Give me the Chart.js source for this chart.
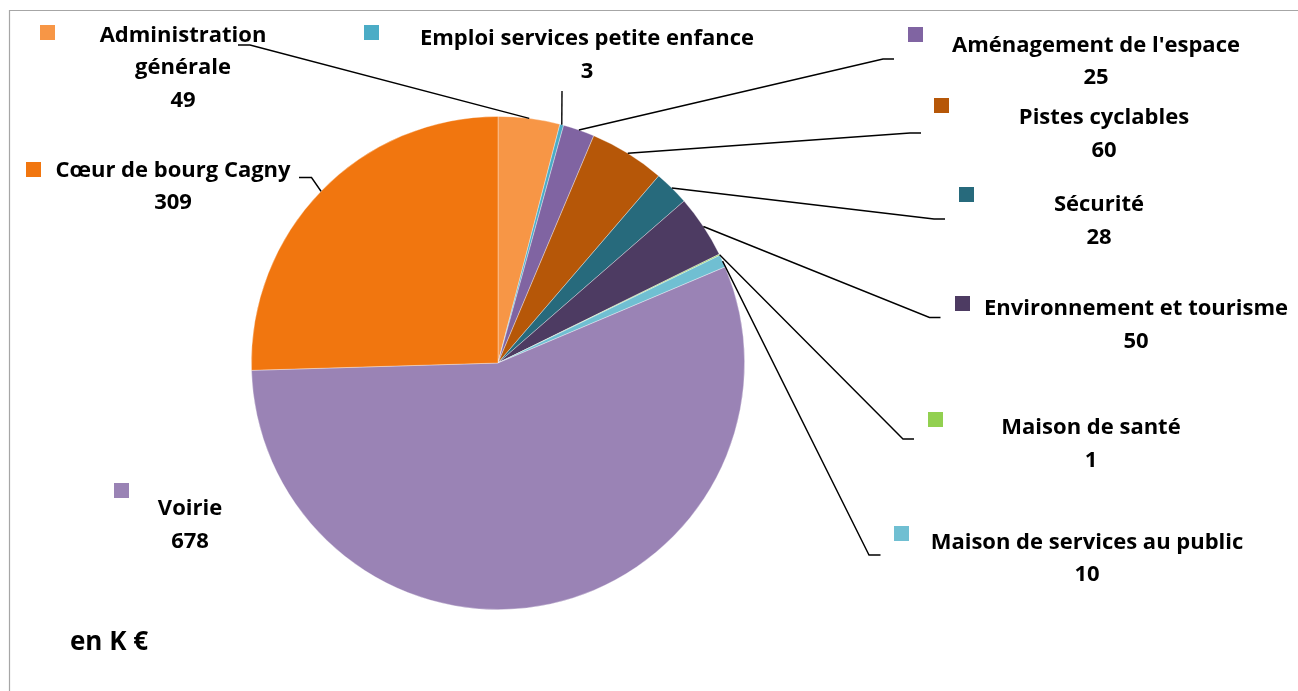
<!DOCTYPE html>
<html lang="fr">
<head>
<meta charset="utf-8">
<title>Investissements par domaine (en K €)</title>
<script src="https://cdn.jsdelivr.net/npm/chart.js@4.4.1/dist/chart.umd.min.js"></script>
<style>
  html, body { margin: 0; padding: 0; background: #ffffff; }
  #wrap { position: relative; width: 1298px; height: 691px; overflow: hidden; }
  canvas { display: block; }
</style>
</head>
<body>
<div id="wrap"><canvas id="chart" width="1298" height="691"></canvas></div>
<script>
// Domaines d'investissement, dans l'ordre des secteurs (sens horaire depuis midi)
const categories = [
  "Administration générale",
  "Emploi services petite enfance",
  "Aménagement de l'espace",
  "Pistes cyclables",
  "Sécurité",
  "Environnement et tourisme",
  "Maison de santé",
  "Maison de services au public",
  "Voirie",
  "Cœur de bourg Cagny"
];

// Montants en milliers d'euros
const amounts = [49, 3, 25, 60, 28, 50, 1, 10, 678, 309];

const sliceColors = [
  "#F79646", "#4BACC6", "#8064A2", "#B65708", "#276A7C",
  "#4D3B62", "#92D050", "#70BFD2", "#9A83B5", "#F1760F"
];

const unitNote = "en K €";

// Placement des étiquettes : centre du texte, première ligne de base,
// carré de couleur et coude de la ligne de rappel.
const labelLayout = [
  { cx: 183,  y: 41.5, sq: [40, 25],   wrap: 190, elbow: [[250, 45], [238, 45]] },
  { cx: 587,  y: 45,   sq: [364, 25],  elbow: [[562, 91]] },
  { cx: 1096, y: 51.5, sq: [908, 27],  elbow: [[883, 59], [894, 59]] },
  { cx: 1104, y: 124,  sq: [934, 98],  elbow: [[910, 133], [921, 133]] },
  { cx: 1099, y: 211,  sq: [959, 187], elbow: [[934, 219], [945, 219]] },
  { cx: 1136, y: 315,  sq: [955, 296], elbow: [[929.5, 317.5], [940.5, 317.5]] },
  { cx: 1091, y: 434,  sq: [928, 412], elbow: [[903, 439], [914, 439]] },
  { cx: 1087, y: 548.5,sq: [894, 526], elbow: [[869, 555], [880.5, 555]] },
  { cx: 190,  y: 515,  sq: [114, 483], elbow: null },
  { cx: 173,  y: 176.5,sq: [26, 162],  elbow: [[311.5, 177.5], [299, 177.5]] }
];

const LABEL_FONT = "bold 22px 'Open Sans', Lato, sans-serif";
const LINE_GAP = 32.5;

function wrapText(ctx, text, maxWidth) {
  if (!maxWidth) return [text];
  const words = text.split(" ");
  const lines = [];
  let cur = "";
  words.forEach(w => {
    const test = cur ? cur + " " + w : w;
    if (cur && ctx.measureText(test).width > maxWidth) {
      lines.push(cur);
      cur = w;
    } else {
      cur = test;
    }
  });
  if (cur) lines.push(cur);
  return lines;
}

// Cadre gris (haut et gauche) autour de la zone du graphique
const framePlugin = {
  id: "frame",
  beforeDraw(chart) {
    const ctx = chart.ctx;
    ctx.save();
    ctx.strokeStyle = "#A6A6A6";
    ctx.lineWidth = 1.2;
    ctx.beginPath();
    ctx.moveTo(9.5, chart.height);
    ctx.lineTo(9.5, 10.5);
    ctx.lineTo(chart.width, 10.5);
    ctx.stroke();
    ctx.restore();
  }
};

// Étiquettes de données avec lignes de rappel, carré de légende et valeur
const calloutPlugin = {
  id: "callouts",
  afterDatasetsDraw(chart) {
    const ctx = chart.ctx;
    const meta = chart.getDatasetMeta(0);
    const values = chart.data.datasets[0].data;
    const colors = chart.data.datasets[0].backgroundColor;
    ctx.save();
    ctx.font = LABEL_FONT;
    meta.data.forEach((arc, i) => {
      const lay = labelLayout[i];
      const p = arc.getProps(["x", "y", "startAngle", "endAngle", "outerRadius"], true);
      const mid = (p.startAngle + p.endAngle) / 2;
      const sx = p.x + Math.cos(mid) * p.outerRadius;
      const sy = p.y + Math.sin(mid) * p.outerRadius;

      if (lay.elbow) {
        ctx.strokeStyle = "#000000";
        ctx.lineWidth = 1.4;
        ctx.beginPath();
        ctx.moveTo(sx, sy);
        lay.elbow.forEach(pt => ctx.lineTo(pt[0], pt[1]));
        ctx.stroke();
      }

      ctx.fillStyle = colors[i];
      ctx.fillRect(lay.sq[0], lay.sq[1], 15, 15);

      const lines = wrapText(ctx, chart.data.labels[i], lay.wrap);
      lines.push(String(values[i]));
      ctx.fillStyle = "#000000";
      ctx.textAlign = "center";
      ctx.textBaseline = "alphabetic";
      lines.forEach((ln, k) => ctx.fillText(ln, lay.cx, lay.y + k * LINE_GAP));
    });

    ctx.font = "bold 26px 'Open Sans', Lato, sans-serif";
    ctx.textAlign = "left";
    ctx.fillStyle = "#000000";
    ctx.fillText(unitNote, 70, 650);
    ctx.restore();
  }
};

new Chart(document.getElementById("chart"), {
  type: "pie",
  data: {
    labels: categories,
    datasets: [{
      data: amounts,
      backgroundColor: sliceColors,
      borderColor: "rgba(255,255,255,0.45)",
      borderWidth: 0.75
    }]
  },
  options: {
    responsive: false,
    animation: false,
    layout: { padding: { left: 251, top: 116, right: 553, bottom: 81 } },
    plugins: {
      legend: { display: false },
      tooltip: { enabled: false },
      title: { display: false }
    }
  },
  plugins: [framePlugin, calloutPlugin]
});
</script>
</body>
</html>
